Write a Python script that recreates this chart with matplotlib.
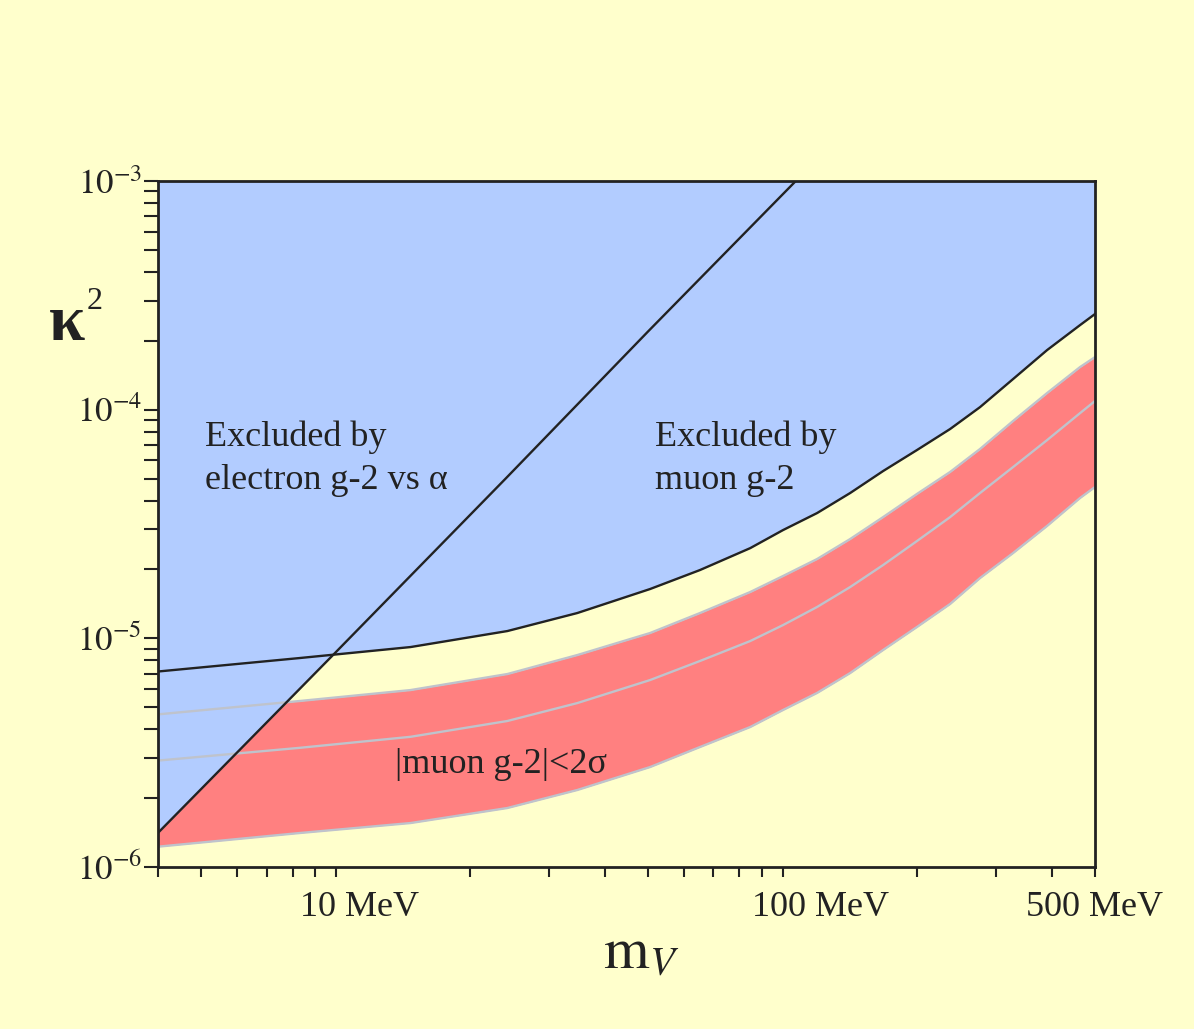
import numpy as np
import matplotlib
matplotlib.use("Agg")
import matplotlib.pyplot as plt
from matplotlib.ticker import FixedLocator, NullFormatter, LogLocator

plt.rcParams["font.family"] = "Liberation Serif"
plt.rcParams["mathtext.fontset"] = "stix"

# dark photon mass grid (MeV)
mass = [4, 8.3, 14.7, 24.2, 34.7, 50.5, 65.3, 84.6, 100.2, 119.4, 141.6,
        167.8, 199.8, 237, 276.5, 327.8, 390.6, 463, 500]

# upper bound on kappa^2 from muon g-2
muon_excl = [7.16e-6, 8.20e-6, 9.16e-6, 1.076e-5, 1.29e-5, 1.643e-5, 1.989e-5,
             2.48e-5, 2.975e-5, 3.53e-5, 4.32e-5, 5.39e-5, 6.66e-5, 8.23e-5,
             1.026e-4, 1.361e-4, 1.822e-4, 2.344e-4, 2.62e-4]

# |muon g-2| < 2 sigma band: upper edge, central value, lower edge
band_upper = [4.65e-6, 5.32e-6, 5.94e-6, 6.98e-6, 8.45e-6, 1.055e-5, 1.29e-5,
              1.594e-5, 1.873e-5, 2.222e-5, 2.718e-5, 3.39e-5, 4.28e-5, 5.34e-5,
              6.73e-5, 8.92e-5, 1.182e-4, 1.536e-4, 1.698e-4]
band_mid = [2.92e-6, 3.32e-6, 3.71e-6, 4.35e-6, 5.21e-6, 6.57e-6, 7.96e-6,
            9.73e-6, 1.143e-5, 1.371e-5, 1.676e-5, 2.092e-5, 2.664e-5, 3.39e-5,
            4.32e-5, 5.61e-5, 7.36e-5, 9.66e-5, 1.091e-4]
band_lower = [1.227e-6, 1.408e-6, 1.557e-6, 1.811e-6, 2.171e-6, 2.736e-6,
              3.347e-6, 4.094e-6, 4.86e-6, 5.77e-6, 7.05e-6, 8.89e-6, 1.121e-5,
              1.413e-5, 1.835e-5, 2.36e-5, 3.10e-5, 4.11e-5, 4.59e-5]

# electron g-2 vs alpha bound
mass_e = [4, 10, 24, 50, 107]
electron_excl = [1.41e-6, 8.7e-6, 5.0e-5, 2.2e-4, 1.0e-3]

x_major = [10, 100, 500]
x_labels = ["10 MeV", "100 MeV", "500 MeV"]
x_label_shift = [-25.5, -22, -50]   # points, left edge relative to tick
x_minor = [4, 5, 6, 7, 8, 9, 20, 30, 40, 50, 60, 70, 80, 90, 200, 300, 400]
y_major = [1e-6, 1e-5, 1e-4, 1e-3]
y_labels = [r"$10^{-6}$", r"$10^{-5}$", r"$10^{-4}$", r"$10^{-3}$"]

bg = "#FFFFCC"
blue = "#B2CCFF"
red = "#FF8080"
grey = "#BFC3CC"
ink = "#222222"

fig = plt.figure(figsize=(11.94, 10.29), dpi=100, facecolor=bg)
ax = fig.add_axes([158 / 1194, 1 - 867 / 1029, 937 / 1194, 686 / 1029])
ax.set_facecolor(bg)
ax.set_xscale("log")
ax.set_yscale("log")
ax.set_xlim(4, 500)
ax.set_ylim(1e-6, 1e-3)

ax.fill_between(mass, band_lower, band_upper, color=red, lw=0, zorder=1)
ax.fill_between(mass, muon_excl, 1e-3, color=blue, lw=0, zorder=2)
ax.fill_between(mass_e, electron_excl, 1e-3, color=blue, lw=0, zorder=2)
for band in (band_upper, band_mid, band_lower):
    ax.plot(mass, band, color=grey, lw=1.7, zorder=3)
ax.plot(mass, muon_excl, color=ink, lw=1.7, zorder=4)
ax.plot(mass_e, electron_excl, color=ink, lw=1.7, zorder=4)

for s in ax.spines.values():
    s.set_linewidth(2)
    s.set_color(ink)
    s.set_zorder(5)

ax.xaxis.set_major_locator(FixedLocator(x_major))
ax.xaxis.set_minor_locator(FixedLocator(x_minor))
ax.xaxis.set_major_formatter(NullFormatter())
ax.xaxis.set_minor_formatter(NullFormatter())
ax.tick_params(axis="x", which="both", direction="out", length=7, width=1.5,
               color=ink)

ax.yaxis.set_major_locator(FixedLocator(y_major))
ax.yaxis.set_minor_locator(LogLocator(base=10, subs=np.arange(2, 10)))
ax.yaxis.set_minor_formatter(NullFormatter())
ax.set_yticklabels(y_labels)
ax.tick_params(axis="y", which="both", direction="out", length=10, width=1.5,
               color=ink, labelsize=25, pad=1.5, labelcolor=ink)

for m, lab, dx in zip(x_major, x_labels, x_label_shift):
    ax.annotate(lab, xy=(m, 0), xycoords=("data", "axes fraction"),
                xytext=(dx, -17), textcoords="offset points",
                ha="left", va="top", fontsize=26, color=ink)

# region labels
txt = dict(transform=ax.transAxes, fontsize=26, color=ink, va="baseline")
ax.text((205 - 158) / 937, (867 - 446) / 686, "Excluded by", **txt)
ax.text((205 - 158) / 937, (867 - 489) / 686, "electron g-2 vs \u03b1", **txt)
ax.text((655 - 158) / 937, (867 - 446) / 686, "Excluded by", **txt)
ax.text((655 - 158) / 937, (867 - 489) / 686, "muon g-2", **txt)
ax.text((395 - 158) / 937, (867 - 773) / 686, "|muon g-2|<2\u03c3", **txt)

# axis titles
fig.text(49 / 1194, 1 - 340 / 1029, "\u03ba", fontsize=47, color=ink,
         ha="left", va="baseline", fontweight="bold")
fig.text(87 / 1194, 1 - 309 / 1029, "2", fontsize=23, color=ink,
         ha="left", va="baseline")
fig.text(603 / 1194, 1 - 968 / 1029, r"$\mathrm{m}_{V}$", fontsize=42,
         color=ink, ha="left", va="baseline")

fig.savefig("out.png", dpi=100, facecolor=bg)
